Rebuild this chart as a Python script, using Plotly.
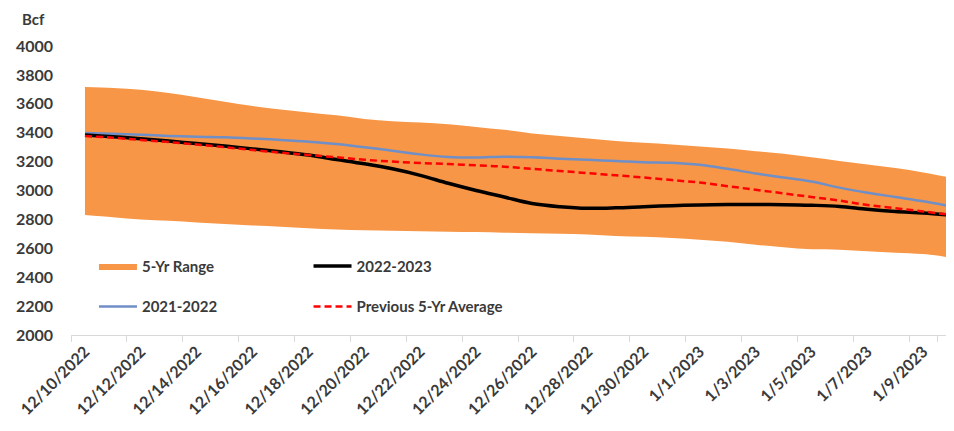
import plotly.graph_objects as go

# storage report, Bcf, daily 12/10/2022 - 1/10/2023
dates = [
    "12/10/2022", "12/11/2022", "12/12/2022", "12/13/2022", "12/14/2022", "12/15/2022",
    "12/16/2022", "12/17/2022", "12/18/2022", "12/19/2022", "12/20/2022", "12/21/2022",
    "12/22/2022", "12/23/2022", "12/24/2022", "12/25/2022", "12/26/2022", "12/27/2022",
    "12/28/2022", "12/29/2022", "12/30/2022", "12/31/2022", "1/1/2023", "1/2/2023",
    "1/3/2023", "1/4/2023", "1/5/2023", "1/6/2023", "1/7/2023", "1/8/2023",
    "1/9/2023", "1/10/2023",
]
range_max = [
    3716, 3710, 3697, 3675, 3645, 3615, 3585, 3560, 3540, 3520, 3495, 3480,
    3470, 3458, 3440, 3420, 3395, 3378, 3360, 3342, 3330, 3318, 3305, 3290,
    3272, 3255, 3230, 3205, 3180, 3155, 3125, 3088,
]
range_min = [
    2830, 2815, 2800, 2790, 2778, 2768, 2758, 2750, 2738, 2730, 2725, 2722,
    2718, 2715, 2712, 2708, 2705, 2700, 2695, 2685, 2680, 2672, 2660, 2645,
    2625, 2608, 2593, 2590, 2580, 2570, 2560, 2535,
]
y2021_22 = [
    3398, 3392, 3385, 3378, 3372, 3368, 3360, 3350, 3338, 3322, 3300, 3275,
    3250, 3232, 3228, 3234, 3230, 3220, 3212, 3205, 3196, 3192, 3178, 3150,
    3118, 3090, 3062, 3020, 2985, 2955, 2925, 2890,
]
y2022_23 = [
    3384, 3372, 3358, 3342, 3325, 3308, 3288, 3268, 3245, 3215, 3185, 3150,
    3105, 3050, 3000, 2955, 2910, 2888, 2877, 2880, 2888, 2895, 2900, 2903,
    2903, 2902, 2898, 2890, 2870, 2855, 2845, 2830,
]
avg_5yr = [
    3377, 3365, 3350, 3335, 3318, 3300, 3280, 3262, 3246, 3230, 3213, 3200,
    3190, 3183, 3174, 3165, 3150, 3135, 3120, 3105, 3090, 3072, 3055, 3030,
    3005, 2980, 2955, 2930, 2900, 2877, 2855, 2830,
]

FONT = "Lato, 'Open Sans', sans-serif"
TXT = "#3a3a3a"

fig = go.Figure()
fig.add_trace(go.Scatter(x=dates, y=range_min, mode="lines", line=dict(width=0, shape="spline"),
                         showlegend=False, hoverinfo="skip"))
fig.add_trace(go.Scatter(x=dates, y=range_max, mode="lines", name="5-Yr Range",
                         line=dict(width=0, shape="spline"), fill="tonexty",
                         fillcolor="#F79646", legend="legend", legendgroup="a"))
fig.add_trace(go.Scatter(x=dates, y=y2021_22, mode="lines", name="2021-2022",
                         line=dict(color="#6F8FC6", width=2.5, shape="spline"),
                         legend="legend", legendgroup="b"))
fig.add_trace(go.Scatter(x=dates, y=y2022_23, mode="lines", name="2022-2023",
                         line=dict(color="#000000", width=3.5, shape="spline"),
                         legend="legend2", legendgroup="c"))
fig.add_trace(go.Scatter(x=dates, y=avg_5yr, mode="lines", name="Previous 5-Yr Average",
                         line=dict(color="#FF0000", width=2.5, dash="7px,4px", shape="spline"),
                         legend="legend2", legendgroup="d"))

legend_style = dict(font=dict(family=FONT, size=15, color=TXT, weight="bold"),
                    bgcolor="rgba(0,0,0,0)", tracegroupgap=18, itemwidth=38,
                    yanchor="top", y=0.295, xanchor="left")

# page body has an 8px margin, so the figure is shifted; margins compensate
fig.update_layout(
    width=954, height=431,
    margin=dict(l=61, r=8, t=38, b=104),
    plot_bgcolor="#ffffff", paper_bgcolor="#ffffff",
    font=dict(family=FONT, color=TXT),
    legend=dict(x=0.026, **legend_style),
    legend2=dict(x=0.269, **legend_style),
    xaxis=dict(
        type="category", range=[-0.5, 31.1],
        tickvals=dates[::2], tickangle=-45, tickson="boundaries",
        ticks="outside", ticklen=6, tickcolor="#d9d9d9",
        showline=True, linecolor="#d9d9d9", linewidth=1,
        showgrid=False, zeroline=False,
        tickfont=dict(family=FONT, size=16, color=TXT, weight="bold"),
    ),
    yaxis=dict(
        range=[2000, 4000], dtick=200, showgrid=False, zeroline=False, showline=False,
        ticklabelstandoff=17,
        tickfont=dict(family=FONT, size=16, color=TXT, weight="bold"),
    ),
    annotations=[dict(text="Bcf", xref="paper", yref="paper", x=-0.043, y=1.095,
                      xanchor="center", yanchor="middle", showarrow=False,
                      font=dict(family=FONT, size=15, color=TXT, weight="bold"))],
)

fig.write_html("out.html")
